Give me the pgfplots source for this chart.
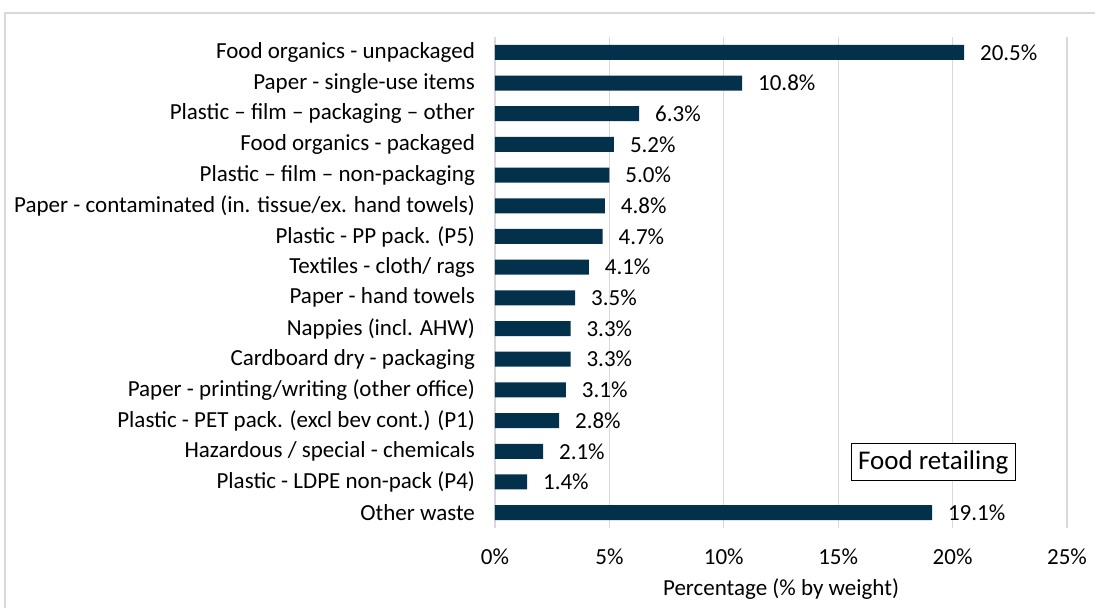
\documentclass[border=0pt]{standalone}
\usepackage{pgfplots}
\pgfplotsset{compat=1.18}
\usepackage{fontspec}
\setmainfont{Carlito}
\definecolor{barnavy}{HTML}{03314B}
\definecolor{gridgray}{HTML}{D9D9D9}
\definecolor{framegray}{HTML}{D9D9D9}

\begin{document}
\begin{tikzpicture}
    % picture is 1095x608 px, 1 px = 0.5pt; plot area lower left at px (495,528)
    \useasboundingbox (-247.5pt,-40pt) rectangle (300pt,264pt);
    \draw[framegray, line width=0.8pt] (-245pt,-60pt) rectangle (320pt,257.5pt);
    \begin{axis}[
        at={(0,0)}, anchor=south west,
        scale only axis,
        width=286pt,
        height=245.5pt,
        xbar,
        bar width=7.5pt,
        xmin=0, xmax=25,
        ymin=-0.5, ymax=15.5,
        y dir=reverse,
        xtick={0,5,10,15,20,25},
        xticklabel={\pgfmathprintnumber{\tick}\%},
        ytick={0,...,15},
        yticklabels={
            Food organics - unpackaged,
            Paper - single-use items,
            Plastic – film – packaging – other,
            Food organics - packaged,
            Plastic – film – non-packaging,
            Paper - contaminated (in. tissue/ex. hand towels),
            Plastic - PP pack. (P5),
            Textiles - cloth/ rags,
            Paper - hand towels,
            Nappies (incl. AHW),
            Cardboard dry - packaging,
            Paper - printing/writing (other office),
            Plastic - PET pack. (excl bev cont.) (P1),
            Hazardous / special - chemicals,
            Plastic - LDPE non-pack (P4),
            Other waste},
        /pgf/number format/assume math mode=true,
        tick label style={font=\fontsize{11.5}{13}\selectfont, text=black},
        yticklabel style={xshift=-6.5pt},
        xticklabel style={yshift=-7pt},
        major tick length=0pt,
        axis line style={draw=none},
        xmajorgrids,
        grid style={gridgray, line width=0.6pt},
        xlabel={Percentage (\% by weight)},
        xlabel style={font=\fontsize{11.5}{13}\selectfont, yshift=0pt},
        nodes near coords={\pgfmathprintnumber[fixed,fixed zerofill,precision=1]{\pgfplotspointmeta}\%},
        nodes near coords style={font=\fontsize{11.5}{13}\selectfont, text=black, anchor=west, xshift=4.5pt},
        point meta=x,
        clip=false
    ]
    \addplot[fill=barnavy, draw=none] coordinates {
        (20.5,0) (10.8,1) (6.3,2) (5.2,3) (5.0,4) (4.8,5) (4.7,6) (4.1,7)
        (3.5,8) (3.3,9) (3.3,10) (3.1,11) (2.8,12) (2.1,13) (1.4,14) (19.1,15)
    };
    \node[draw=black, line width=0.5pt, fill=white, inner sep=3.5pt,
          font=\fontsize{13.5}{15}\selectfont] at (axis cs:19.15,13.35) {Food retailing};
    \end{axis}
\end{tikzpicture}
\end{document}
